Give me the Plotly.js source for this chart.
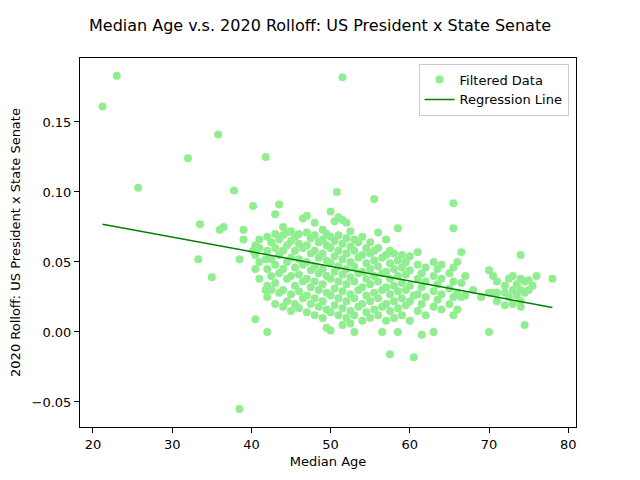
<!DOCTYPE html>
<html>
<head>
<meta charset="utf-8">
<script src="https://cdn.plot.ly/plotly-3.0.1.min.js"></script>
<style>body{margin:0}</style>
</head>
<body>
<div id="graph"></div>
<script>
// Values (estimated per column of points)
var colAges = [21.2, 23, 25.7, 32, 33.3, 33.5, 35, 35.8, 36, 36.5, 37.8, 38.5, 39, 40.2, 40.5, 41, 41.8, 42, 42.5, 43, 43.5, 44, 44.5, 45, 45.5, 46, 46.5, 47, 47.5, 48, 48.5, 49, 49.5, 50, 50.5, 50.8, 51, 51.5, 52, 52.5, 53, 53.5, 54, 54.5, 55, 55.5, 56, 56.5, 57, 57.5, 58, 58.5, 59, 59.5, 60, 60.5, 61, 61.5, 62, 63, 63.5, 64, 65, 65.5, 66, 66.5, 67, 68, 69, 70, 70.5, 71, 72, 72.5, 73, 73.5, 74, 74.5, 75, 75.5, 76, 78];
var colRolloffs = [
  [0.161], [0.183], [0.103], [0.124], [0.052], [0.077], [0.039], [0.141], [0.073], [0.075], [0.101],
  [0.052, -0.055], [0.073, 0.066], [0.090, 0.058], [0.055, 0.062, 0.045, 0.009],
  [0.038, 0.060, 0.050, 0.066], [0.125, 0.030, 0.052], [0.025, 0.045, 0.058, 0.068, 0.033, 0.000],
  [0.030, 0.052, 0.064, 0.040], [0.020, 0.035, 0.048, 0.060, 0.070, 0.084],
  [0.028, 0.042, 0.055, 0.066, 0.091], [0.018, 0.030, 0.045, 0.058, 0.069, 0.075],
  [0.022, 0.038, 0.050, 0.062, 0.071], [0.015, 0.027, 0.040, 0.053, 0.065, 0.072],
  [0.020, 0.033, 0.046, 0.058, 0.068], [0.017, 0.029, 0.041, 0.052, 0.063, 0.070],
  [0.024, 0.036, 0.048, 0.060, 0.081], [0.014, 0.026, 0.038, 0.050, 0.062, 0.071, 0.083],
  [0.020, 0.032, 0.044, 0.056, 0.067], [0.012, 0.024, 0.036, 0.047, 0.058, 0.069, 0.078],
  [0.018, 0.030, 0.042, 0.053, 0.064], [0.010, 0.022, 0.034, 0.045, 0.056, 0.066, 0.073],
  [0.003, 0.016, 0.028, 0.040, 0.051, 0.062, 0.070], [0.001, 0.014, 0.026, 0.038, 0.049, 0.060, 0.068, 0.086],
  [0.019, 0.031, 0.043, 0.054, 0.065, 0.079], [0.100],
  [0.012, 0.024, 0.036, 0.047, 0.058, 0.069, 0.082], [0.182, 0.005, 0.017, 0.029, 0.041, 0.052, 0.063, 0.080],
  [0.010, 0.022, 0.034, 0.045, 0.056, 0.067, 0.078], [0.006, 0.015, 0.027, 0.039, 0.050, 0.061, 0.072],
  [0.000, 0.012, 0.024, 0.036, 0.047, 0.058, 0.066], [0.018, 0.030, 0.042, 0.053, 0.064],
  [0.008, 0.020, 0.032, 0.043, 0.055, 0.068], [0.014, 0.026, 0.038, 0.049, 0.060],
  [0.010, 0.022, 0.034, 0.045, 0.056, 0.064], [0.095, 0.016, 0.028, 0.040, 0.051, 0.058],
  [0.012, 0.024, 0.036, 0.047, 0.060, 0.071], [0.000, 0.018, 0.030, 0.042, 0.053],
  [0.008, 0.020, 0.032, 0.043, 0.055, 0.066], [-0.016, 0.015, 0.027, 0.038, 0.049, 0.058],
  [0.010, 0.022, 0.033, 0.045, 0.056], [0.000, 0.017, 0.029, 0.040, 0.051, 0.074],
  [0.012, 0.024, 0.035, 0.046, 0.055], [0.019, 0.030, 0.041, 0.050],
  [0.008, 0.022, 0.033, 0.044, 0.054], [-0.018, 0.026],
  [0.015, 0.027, 0.038, 0.048, 0.057], [-0.002, 0.020, 0.032, 0.042],
  [0.012, 0.025, 0.036, 0.046], [0.018, 0.029, 0.040, 0.000, 0.050],
  [0.023, 0.034, 0.045], [0.016, 0.027, 0.038, 0.048], [0.020, 0.031, 0.042],
  [0.012, 0.025, 0.036, 0.046, 0.092, 0.074], [0.016, 0.028, 0.050], [0.025, 0.035, 0.057],
  [0.026, 0.040], [0.030], [0.025], [0.028, 0.044, 0.000], [0.040, 0.028],
  [0.022, 0.028, 0.036], [0.028, 0.033, 0.019], [0.038, 0.025], [0.030, 0.040, 0.020],
  [0.034, 0.026], [0.022, 0.030, 0.038, 0.018, 0.055], [0.028, 0.036, 0.005],
  [0.030, 0.037], [0.033], [0.040], [0.038]
];
var lineAges = [21.2, 78];
var lineRolloffs = [0.077, 0.0175];

var ageVals = [], rolloffVals = [];
colAges.forEach(function (a, i) {
  colRolloffs[i].forEach(function (r) {
    ageVals.push(a);
    rolloffVals.push(r);
  });
});

var font = {family: 'DejaVu Sans', size: 13, color: '#000'};

var axis = {
  showgrid: false, zeroline: false, showline: true, mirror: true,
  linecolor: '#000', linewidth: 1, ticks: 'outside', ticklen: 5,
  tickcolor: '#000', tickfont: font
};

var data = [
  {
    type: 'scatter', mode: 'markers', name: 'Filtered Data',
    x: ageVals, y: rolloffVals,
    marker: {color: '#90ee90', size: 8}
  },
  {
    type: 'scatter', mode: 'lines', name: 'Regression Line',
    x: lineAges, y: lineRolloffs,
    line: {color: '#008000', width: 1.5}
  }
];

var layout = {
  width: 640, height: 480,
  margin: {l: 80, r: 64, t: 58, b: 53},
  paper_bgcolor: '#fff', plot_bgcolor: '#fff',
  font: font,
  title: {text: 'Median Age v.s. 2020 Rolloff: US President x State Senate',
          font: {family: 'DejaVu Sans', size: 16}, x: 0.5, y: 0.935, yanchor: 'bottom'},
  xaxis: Object.assign({}, axis, {
    range: [18.36, 80.98], tickvals: [20, 30, 40, 50, 60, 70, 80],
    title: {text: 'Median Age', font: font, standoff: 6}
  }),
  yaxis: Object.assign({}, axis, {
    range: [-0.0679, 0.1957], tickvals: [-0.05, 0, 0.05, 0.1, 0.15], tickformat: '.2f',
    title: {text: '2020 Rolloff: US President x State Senate', font: font, standoff: 8}
  }),
  legend: {
    x: 0.985, y: 0.985, xanchor: 'right', yanchor: 'top',
    bgcolor: 'rgba(255,255,255,0.8)', bordercolor: '#ccc', borderwidth: 1,
    font: font
  },
  showlegend: true
};

Plotly.newPlot('graph', data, layout, {displayModeBar: false});
</script>
</body>
</html>
